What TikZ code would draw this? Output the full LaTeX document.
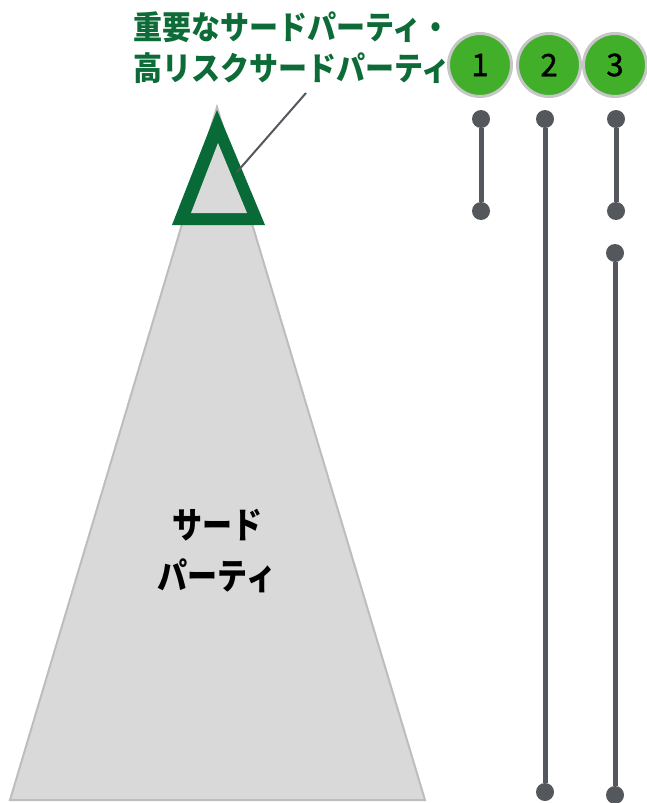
\documentclass[tikz,border=0pt]{standalone}
\usepackage{fontspec}
\usepackage{graphicx}
\setmainfont{Noto Sans}
\newfontfamily\cjk{Noto Sans CJK JP}
\newfontfamily\numf[FakeBold=1.3]{Noto Sans CJK JP}
\definecolor{dgreen}{HTML}{076A37}
\definecolor{tgreen}{HTML}{0C6B36}
\definecolor{lgreen}{HTML}{42AF2B}
\definecolor{pgray}{HTML}{D9D9D9}
\definecolor{pedge}{HTML}{BDBDBD}
\definecolor{lgray}{HTML}{54575C}
\definecolor{cedge}{HTML}{C6C6C6}
\newcommand{\tallA}[1]{\scalebox{1}[1.12]{#1}}
\newcommand{\tallB}[1]{\scalebox{1}[1.2]{#1}}
\tikzset{
  title/.style={text=tgreen, font=\cjk\bfseries\fontsize{29}{31}\selectfont, anchor=west, inner sep=0},
  inner/.style={text=black, font=\cjk\bfseries\fontsize{30}{34}\selectfont, inner sep=0},
  num/.style={circle, fill=lgreen, draw=cedge, line width=3pt, minimum size=63pt, inner sep=0, font=\numf\fontsize{31}{34}\selectfont, text=black},
  dotc/.style={circle, fill=lgray, minimum size=18pt, inner sep=0},
  bar/.style={draw=lgray, line width=5pt},
  leader/.style={draw=lgray, line width=2pt}
}
\begin{document}
\begin{tikzpicture}[x=1pt,y=-1pt]
\useasboundingbox (0,0) rectangle (646,803);
% gray pyramid
\draw[fill=pgray, draw=pedge, line width=2pt] (10,800) -- (217,107) -- (425,800) -- cycle;
% green triangle outline
\fill[dgreen] (172,225) -- (217,110) -- (265,225) -- cycle;
\fill[pgray] (191,213) -- (218,143) -- (247,213) -- cycle;
\coordinate (lstart) at (237,172);
\coordinate (lend) at (306,93);
\draw[leader] (lstart) -- (lend);
% title
\node[title] (t1) at (133,27) {\tallA{重要なサードパーティ・}};
\node[title] (t2) at (133,68) {\tallA{高リスクサードパーティ}};
% inner text
\node[inner] (i1) at (217,525) {\tallB{サード}};
\node[inner] (i2) at (217,576) {\tallB{パーティ}};
% circles
\node[num] (c1) at (480,65) {1};
\node[num] (c2) at (549,65) {2};
\node[num] (c3) at (615,65) {3};
% bars
\node[dotc] (a1) at (481,119) {};
\node[dotc] (b1) at (481,211) {};
\draw[bar] (a1) -- (b1);
\node[dotc] (a2) at (545,119) {};
\node[dotc] (b2) at (545,792) {};
\draw[bar] (a2) -- (b2);
\node[dotc] (a3) at (616,119) {};
\node[dotc] (b3) at (616,211) {};
\draw[bar] (a3) -- (b3);
\node[dotc] (a4) at (615,253) {};
\node[dotc] (b4) at (615,795) {};
\draw[bar] (a4) -- (b4);
\end{tikzpicture}
\end{document}
